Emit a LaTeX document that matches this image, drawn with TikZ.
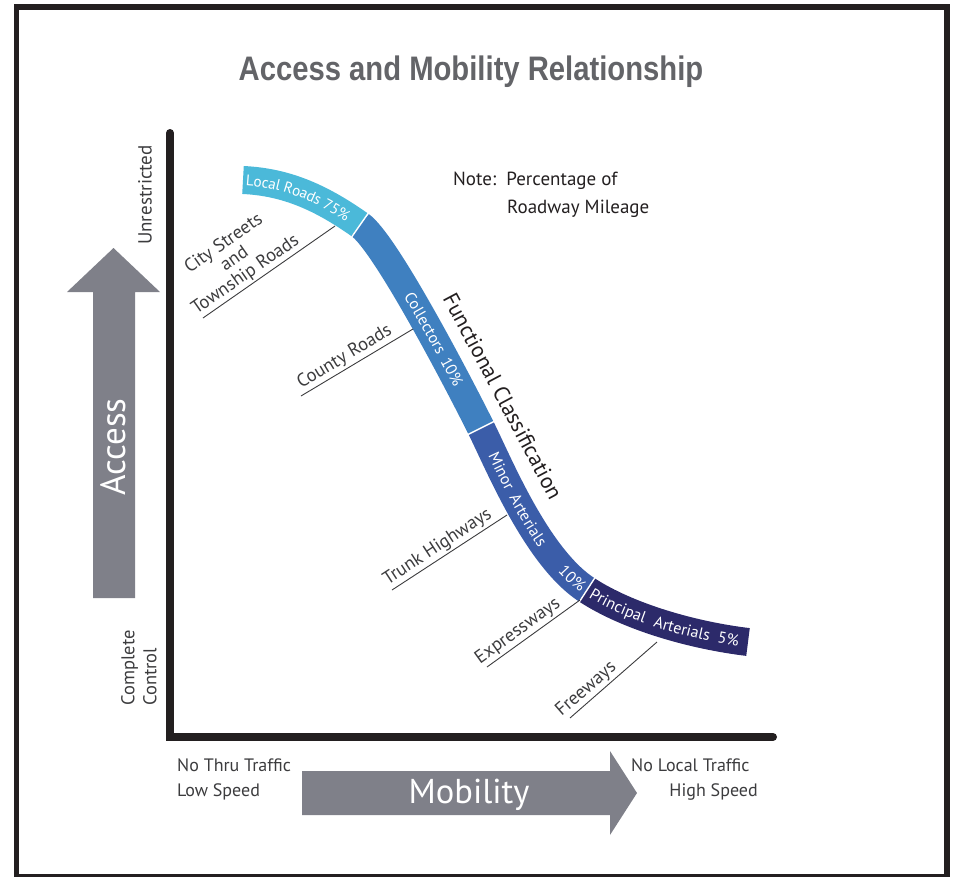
\documentclass[tikz,border=0pt]{standalone}
\usepackage{fontspec}
\setmainfont{PT Sans}
\newfontfamily\titlefont[FakeStretch=0.86]{Liberation Sans}
\usetikzlibrary{decorations.text}

\definecolor{framec}{HTML}{231F20}
\definecolor{arrowgray}{HTML}{7F8089}
\definecolor{titlegray}{HTML}{636468}
\definecolor{localc}{HTML}{4BB9D9}
\definecolor{collc}{HTML}{3F80C0}
\definecolor{minorc}{HTML}{3B5DA9}
\definecolor{princc}{HTML}{2C2A6A}
\definecolor{labelc}{HTML}{3C3C3E}

\newcommand{\bandfont}{\fontsize{16}{17}\selectfont}
\newcommand{\localfont}{\fontsize{15.2}{16}\selectfont}

\begin{document}
\begin{tikzpicture}[x=1pt,y=-1pt,
  band/.style={line width=28pt, line cap=butt},
  joint/.style={draw=white, line width=1.4pt},
  leader/.style={draw=labelc, line width=0.9pt},
  leaderlabel/.style={text=labelc, font=\fontsize{18.5}{19}\selectfont, sloped, above=1pt, inner sep=1pt},
  axis/.style={draw=framec, line width=8pt, line cap=round},
  bandtext/.style={decorate, decoration={text along path, text color=white, raise=-5.4pt, #1}},
  plain/.style={inner sep=0pt, text=labelc, font=\fontsize{18}{19}\selectfont},
]
\useasboundingbox (0,0) rectangle (953,876);

% outer frame
\draw[framec, line width=5.5pt] (16.5,7) rectangle (947,877);

% title
\node[font=\titlefont\bfseries\fontsize{34}{35}\selectfont, text=titlegray] (title) at (471,72) {Access and Mobility Relationship};

% axes
\coordinate (ytop) at (170,133);
\coordinate (origin) at (170,737);
\coordinate (xend) at (773,737);
\draw[axis] (ytop) -- (origin) -- (xend);

% access arrow
\fill[arrowgray] (93,598) -- (93,292) -- (67,292) -- (113.5,248) -- (160,292) -- (135,292) -- (135,598) -- cycle;
\node[rotate=90, text=white, font=\fontsize{35}{36}\selectfont] (access) at (113.5,447) {Access};
\node[rotate=90, text=labelc, font=\fontsize{19}{20}\selectfont] (unres) at (145,195) {Unrestricted};
\node[rotate=90, align=left, text=labelc, font=\fontsize{18.5}{22}\selectfont] (ctrl) at (139,668) {Complete\\Control};

% mobility arrow
\fill[arrowgray] (302,771) -- (610,771) -- (610,751) -- (637,793) -- (610,835) -- (610,815) -- (302,815) -- cycle;
\node[text=white, font=\fontsize{34.5}{35}\selectfont] (mob) at (469,795) {Mobility};
\node[plain, anchor=base west] (nothru) at (177,771) {No Thru Traffic};
\node[plain, anchor=base west] (lowsp) at (177,796) {Low Speed};
\node[plain, anchor=base west] (noloc) at (631,771) {No Local Traffic};
\node[plain, anchor=base east] (highsp) at (758,796) {High Speed};

% note
\node[plain, anchor=base west, text=framec, font=\fontsize{19}{20}\selectfont] (note) at (453,185) {Note:\ \ Percentage of};
\node[plain, anchor=base west, text=framec, font=\fontsize{19}{20}\selectfont] (mile) at (507,213) {Roadway Mileage};

% functional classification band
\coordinate (p0) at (243,180);
\coordinate (p1) at (360,225);
\coordinate (p2) at (481,428);
\coordinate (p3) at (587,590);
\coordinate (p4) at (748,642);

\draw[band, localc] (p0) .. controls (288,182) and (323,199) .. (p1);
\draw[band, collc] (p1) .. controls (384.6,242.2) and (454.2,374.4) .. (p2);
\draw[band, minorc] (p2) .. controls (498.9,463.8) and (536.7,557.3) .. (p3);
\draw[band, princc] (p3) .. controls (628.9,617.3) and (693.4,635.4) .. (p4);

% separators between classes
\coordinate (j1a) at (351.7,236.9);
\coordinate (j1b) at (368.3,213.1);
\coordinate (j2a) at (468.0,434.5);
\coordinate (j2b) at (494.0,421.5);
\coordinate (j3a) at (579.1,602.2);
\coordinate (j3b) at (594.9,577.8);
\draw[joint] (j1a) -- (j1b);
\draw[joint] (j2a) -- (j2b);
\draw[joint] (j3a) -- (j3b);

% class names along the band
\path[bandtext={text={|\localfont|Local Roads 75{\%}}, text align={left indent=3pt}}]
  (p0) .. controls (288,182) and (323,199) .. (p1);
\path[bandtext={text={|\bandfont|Collectors {\hspace{2pt}}10{\%}}, text align={left indent=84pt}}]
  (p1) .. controls (384.6,242.2) and (454.2,374.4) .. (p2);
\path[bandtext={text={|\bandfont|Minor {\hspace{3pt}}Arterials}, text align={left indent=28pt}}]
  (p2) .. controls (498.9,463.8) and (536.7,557.3) .. (p3);
\path[bandtext={text={|\bandfont|10{\%}}, text align={align=right, right indent=4pt}}]
  (p2) .. controls (498.9,463.8) and (536.7,557.3) .. (p3);
\path[bandtext={text={|\bandfont|Principal {\hspace{5pt}}Arterials {\hspace{4pt}}5{\%}}, text align={left indent=5pt}}]
  (p3) .. controls (628.9,617.3) and (693.4,635.4) .. (p4);

\node[rotate=-62, text=framec, font=\fontsize{22}{23}\selectfont] (fc) at (503,396) {Functional Classification};

% road types with leader lines
\coordinate (l1a) at (203,318);  \coordinate (l1b) at (335,226);
\coordinate (l2a) at (301,396);  \coordinate (l2b) at (413,329);
\coordinate (l3a) at (392,590);  \coordinate (l3b) at (507,515);
\coordinate (l4a) at (487,667);  \coordinate (l4b) at (580,600);
\coordinate (l5a) at (570,718);  \coordinate (l5b) at (657,642);

\draw[leader] (l1a) -- (l1b) node[leaderlabel, pos=0.37, align=center] (city) {City Streets\\and\\Township Roads};
\draw[leader] (l2a) -- (l2b) node[leaderlabel, pos=0.44] (county) {County Roads};
\draw[leader] (l3a) -- (l3b) node[leaderlabel, pos=0.45] (trunk) {Trunk Highways};
\draw[leader] (l4a) -- (l4b) node[leaderlabel, pos=0.40] (express) {Expressways};
\draw[leader] (l5a) -- (l5b) node[leaderlabel, pos=0.27] (free) {Freeways};

\end{tikzpicture}
\end{document}
